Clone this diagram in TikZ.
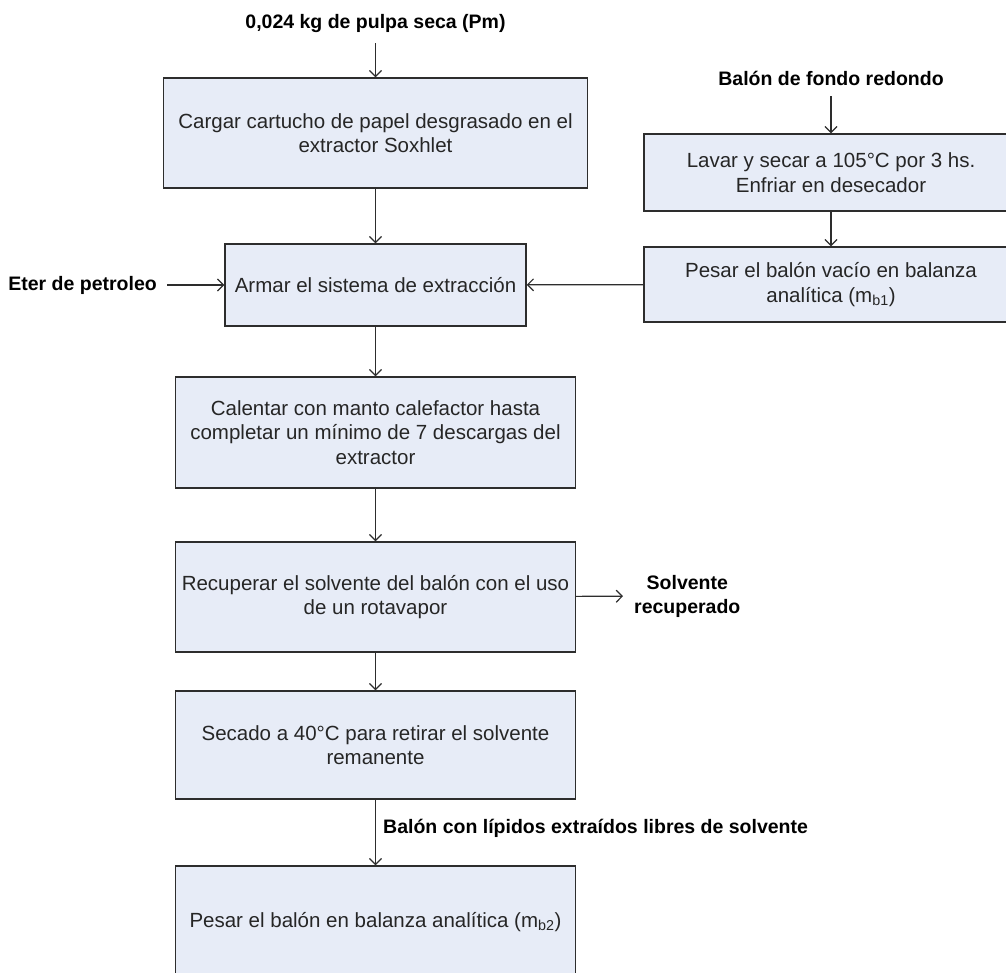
\documentclass[tikz,border=0pt]{standalone}
\usepackage{fontspec}
\setmainfont{Liberation Sans}
\usetikzlibrary{arrows.meta, positioning}
\definecolor{boxfill}{RGB}{231,236,247}
\definecolor{edge}{RGB}{45,45,45}

\begin{document}
\begin{tikzpicture}[x=1pt, y=-1pt,
  box/.style={rectangle, draw=edge, line width=1.4pt, fill=boxfill, align=center, inner sep=0pt, text=black!85, font=\fontsize{20.5}{24.5}\selectfont},
  lbl/.style={align=center, inner sep=0pt, font=\fontsize{19.5}{24}\selectfont\bfseries},
  arrow/.style={-{Straight Barb[length=6pt, width=12pt]}, line width=1.2pt, draw=edge}
]
\useasboundingbox (0,0) rectangle (1006,972);

\node (cargar) [box, minimum width=424pt, minimum height=110pt] at (375.5,133) {Cargar cartucho de papel desgrasado en el\\extractor Soxhlet};
\node (armar) [box, minimum width=301pt, minimum height=82pt] at (375.5,285) {Armar el sistema de extracción};
\node (calentar) [box, minimum width=400pt, minimum height=111pt] at (375.5,432.5) {Calentar con manto calefactor hasta\\completar un mínimo de 7 descargas del\\extractor};
\node (recuperar) [box, minimum width=400pt, minimum height=110pt] at (375.5,597) {Recuperar el solvente del balón con el uso\\de un rotavapor};
\node (secado) [box, minimum width=400pt, minimum height=108pt] at (375.5,745) {Secado a 40°C para retirar el solvente\\remanente};
\node (pesar) [box, minimum width=400pt, minimum height=112pt] at (375.5,922) {Pesar el balón en balanza analítica (m\textsubscript{b2})};

\node (lavar) [box, minimum width=374pt, minimum height=77pt] at (831,172.5) {Lavar y secar a 105°C por 3 hs.\\Enfriar en desecador};
\node (vacio) [box, minimum width=374pt, minimum height=75pt] at (831,284.5) {Pesar el balón vacío en balanza\\analítica (m\textsubscript{b1})};

\node (pulpa) [lbl] at (375.5,23) {0,024 kg de pulpa seca (Pm)};
\node (balon) [lbl] at (831,78) {Balón de fondo redondo};
\node (eter) [lbl, anchor=east] at (157,285) {Eter de petroleo};
\node (solvente) [lbl, anchor=west] at (634,596) {Solvente\\recuperado};
\node (lipidos) [lbl, anchor=west] at (383,828) {Balón con lípidos extraídos libres de solvente};

\draw [arrow, shorten <=11pt] (pulpa) -- (cargar);
\draw [arrow, shorten <=11pt] (balon) -- (lavar);
\draw [arrow, shorten <=10pt] (eter) -- (armar);
\draw [arrow] (lavar) -- (vacio);
\draw [arrow] (vacio) -- (armar);
\draw [arrow] (cargar) -- (armar);
\draw [arrow] (armar) -- (calentar);
\draw [arrow] (calentar) -- (recuperar);
\draw [arrow] (recuperar) -- (secado);
\draw [arrow, shorten >=11pt] (recuperar) -- (solvente);
\draw [arrow] (secado) -- (pesar);

\end{tikzpicture}
\end{document}
